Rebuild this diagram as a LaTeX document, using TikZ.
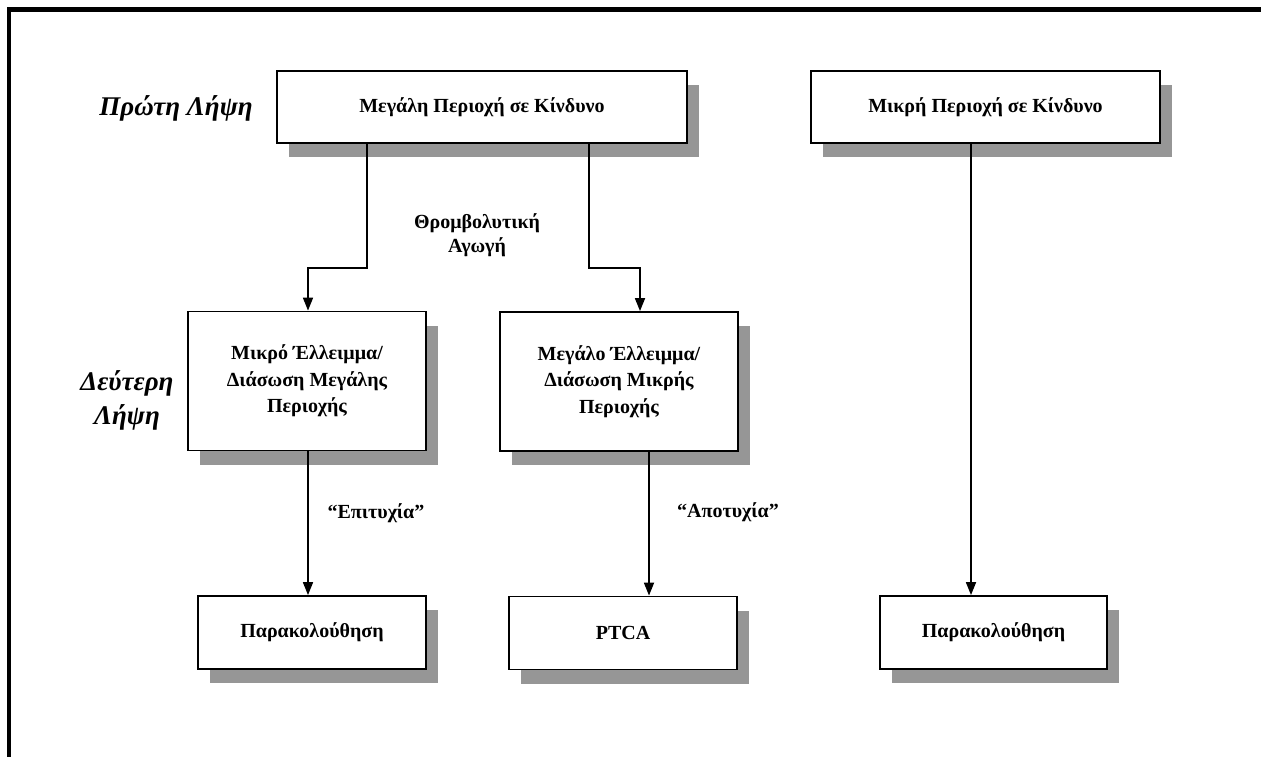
\documentclass[tikz,border=0pt]{standalone}
\usepackage{fontspec}
\setmainfont{Liberation Serif}
\usetikzlibrary{shadows,arrows.meta,calc}
\definecolor{shadowgray}{RGB}{150,150,150}
\begin{document}
\begin{tikzpicture}[x=1pt,y=-1pt,
  box/.style={draw, line width=1.8pt, fill=white, inner sep=0pt, align=center,
    font=\fontsize{20}{26.5}\selectfont\bfseries,
    drop shadow={shadow xshift=12pt, shadow yshift=-14pt, opacity=1, fill=shadowgray}},
  lbl/.style={font=\fontsize{20}{24}\selectfont\bfseries, align=center, inner sep=0pt},
  head/.style={font=\fontsize{27}{34}\selectfont\bfseries\itshape, align=center, inner sep=0pt},
  arr/.style={line width=1.7pt, -{Triangle[length=13pt,width=10pt]}}]
\useasboundingbox (0,0) rectangle (1261,757);
\fill[white] (0,0) rectangle (1261,757);
% frame
\draw[line width=4.3pt, line join=miter] (9.3,757) -- (9.3,9.5) -- (1261,9.5);
% boxes
\node[box, minimum width=410pt, minimum height=72pt] (A) at (482,107) {Μεγάλη Περιοχή σε Κίνδυνο};
\node[box, minimum width=349pt, minimum height=72pt] (B) at (985.5,107) {Μικρή Περιοχή σε Κίνδυνο};
\node[box, minimum width=238pt, minimum height=139pt] (C) at (307,381) {Μικρό Έλλειμμα/\\Διάσωση Μεγάλης\\Περιοχής};
\node[box, minimum width=238pt, minimum height=139pt] (D) at (619,381.5) {Μεγάλο Έλλειμμα/\\Διάσωση Μικρής\\Περιοχής};
\node[box, minimum width=228pt, minimum height=73pt] (E) at (312,632.5) {Παρακολούθηση};
\node[box, minimum width=228pt, minimum height=73pt] (F) at (623,633) {PTCA};
\node[box, minimum width=227pt, minimum height=73pt] (G) at (993.5,632.5) {Παρακολούθηση};
% labels
\node[head] (h1) at (176,108) {Πρώτη Λήψη};
\node[head] (h2) at (127,400) {Δεύτερη\\Λήψη};
\node[lbl] (t1) at (477,235) {Θρομβολυτική\\Αγωγή};
\node[lbl] (t2) at (376,513) {“Επιτυχία”};
\node[lbl] (t3) at (728,512) {“Αποτυχία”};
% connectors
\coordinate (a1) at ($(A.south west)+(91,0)$);
\coordinate (a2) at ($(A.south west)+(313,0)$);
\coordinate (c0) at ($(C.north)+(1,0)$);
\coordinate (c1) at ($(C.south)+(1,0)$);
\coordinate (d0) at ($(D.north)+(21,0)$);
\coordinate (d1) at ($(D.south)+(30,0)$);
\coordinate (b1) at ($(B.south)+(-14.5,0)$);
\draw[arr] (a1) -- ++(0,124) -| (c0);
\draw[arr] (a2) -- ++(0,124) -| (d0);
\draw[arr] (c1) -- (c1 |- E.north);
\draw[arr] (d1) -- (d1 |- F.north);
\draw[arr] (b1) -- (b1 |- G.north);
\end{tikzpicture}
\end{document}
